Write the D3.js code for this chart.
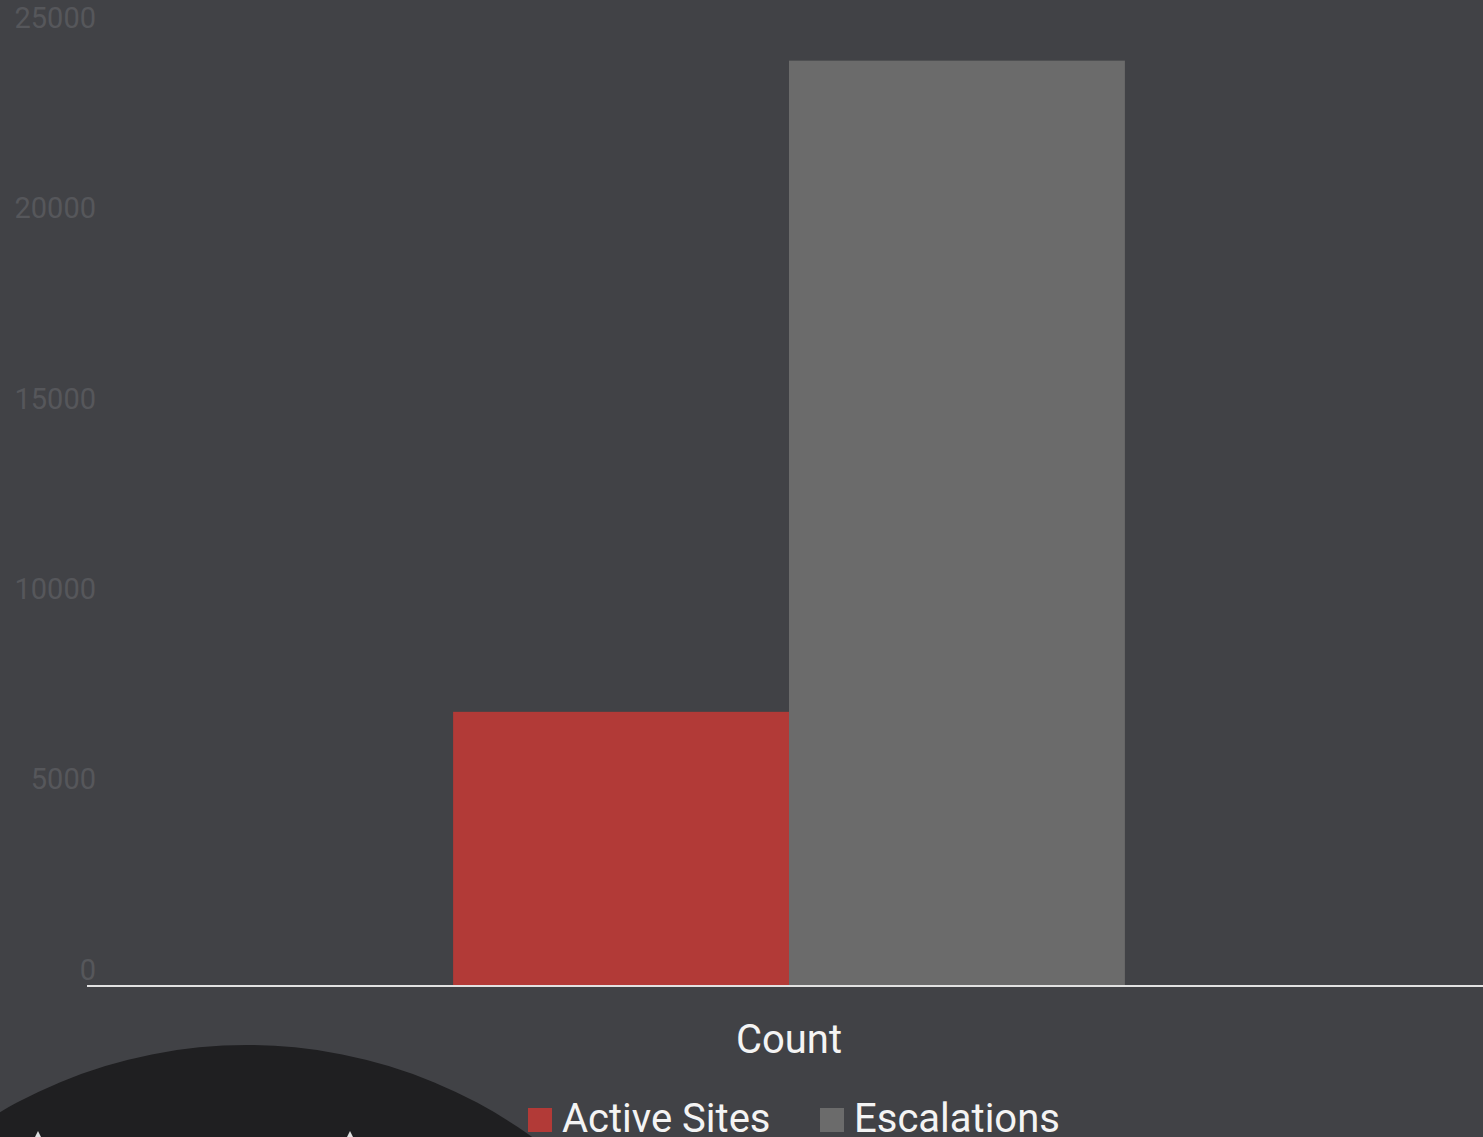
<!DOCTYPE html>
<html>
<head>
<meta charset="utf-8">
<script src="https://cdn.jsdelivr.net/npm/d3@7"></script>
<style>
  html, body { margin: 0; padding: 0; background: #414246; overflow: hidden; }
  svg { display: block; font-family: Roboto, "Noto Sans", sans-serif; }
</style>
</head>
<body>
<div id="chart"></div>
<script>
// chart data
var categories = ["Count"];
var seriesNames = ["Active Sites", "Escalations"];
var seriesValues = [7200, 24300];
var seriesColors = ["#b23a37", "#6b6b6b"];
var yTicks = [0, 5000, 10000, 15000, 20000, 25000];

var width = 1483, height = 1137;

var svg = d3.select("#chart")
  .append("svg")
  .attr("width", width)
  .attr("height", height);

svg.append("rect")
  .attr("width", width)
  .attr("height", height)
  .attr("fill", "#414246");

var y = d3.scaleLinear()
  .domain([0, 25000])
  .range([986, 34]);

// one group for the single category
var x0 = d3.scaleBand()
  .domain(categories)
  .range([87, 1491])
  .paddingInner(0)
  .paddingOuter(0.545);

var x1 = d3.scaleBand()
  .domain(seriesNames)
  .range([0, x0.bandwidth()]);

// y axis labels, sitting above their value line
var yAxis = svg.append("g")
  .attr("transform", "translate(96,0)")
  .call(d3.axisLeft(y).tickValues(yTicks).tickFormat(d3.format("d")).tickSize(0).tickPadding(0));
yAxis.select(".domain").remove();
yAxis.selectAll("text")
  .attr("y", -16)
  .style("font-size", "29px")
  .style("font-family", "Roboto, sans-serif")
  .style("fill", "#56575b");

// bars
var groups = svg.selectAll(".cat")
  .data(categories)
  .enter()
  .append("g")
    .attr("class", "cat")
    .attr("transform", function(d) { return "translate(" + x0(d) + ",0)"; });

groups.selectAll("rect")
  .data(function(d) {
    return seriesNames.map(function(s, i) { return {name: s, value: seriesValues[i], color: seriesColors[i]}; });
  })
  .enter()
  .append("rect")
    .attr("x", function(d) { return x1(d.name); })
    .attr("width", x1.bandwidth())
    .attr("y", function(d) { return y(d.value); })
    .attr("height", function(d) { return y(0) - y(d.value); })
    .attr("fill", function(d) { return d.color; });

// baseline
svg.append("line")
  .attr("x1", 87)
  .attr("x2", 1491)
  .attr("y1", y(0))
  .attr("y2", y(0))
  .attr("stroke", "#e2e2e2")
  .attr("stroke-width", 2);

// category label
svg.selectAll(".catlabel")
  .data(categories)
  .enter()
  .append("text")
    .attr("class", "catlabel")
    .attr("x", function(d) { return x0(d) + x0.bandwidth() / 2; })
    .attr("y", 1053)
    .attr("text-anchor", "middle")
    .style("font-size", "40px")
    .style("fill", "#f4f4f4")
    .text(function(d) { return d; });

// dark disc peeking in at the bottom left
svg.append("circle")
  .attr("cx", 247)
  .attr("cy", 1533)
  .attr("r", 488)
  .attr("fill", "#1f1f21");

svg.selectAll(".tip")
  .data([38, 350])
  .enter()
  .append("path")
    .attr("class", "tip")
    .attr("d", function(d) { return "M" + (d - 3) + ",1137L" + d + ",1131L" + (d + 3) + ",1137Z"; })
    .attr("fill", "#dddddd");

// legend
var legendX = [528, 820];
var legend = svg.selectAll(".legend")
  .data(seriesNames)
  .enter()
  .append("g")
    .attr("class", "legend")
    .attr("transform", function(d, i) { return "translate(" + legendX[i] + ",0)"; });

legend.append("rect")
  .attr("x", 0)
  .attr("y", 1108)
  .attr("width", 24)
  .attr("height", 24)
  .attr("fill", function(d, i) { return seriesColors[i]; });

legend.append("text")
  .attr("x", 34)
  .attr("y", 1132)
  .style("font-size", "40px")
  .style("fill", "#f4f4f4")
  .text(function(d) { return d; });
</script>
</body>
</html>
